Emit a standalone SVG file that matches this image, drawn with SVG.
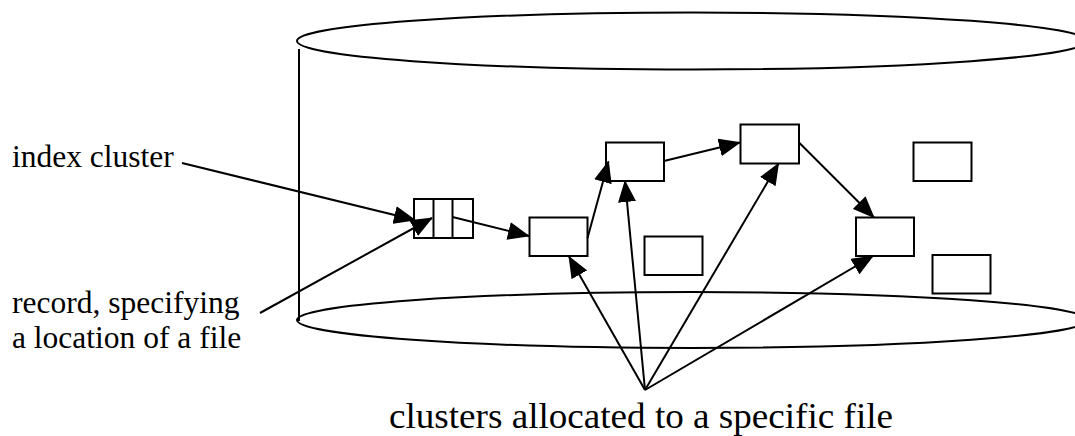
<svg xmlns="http://www.w3.org/2000/svg" width="1075" height="436" viewBox="0 0 1075 436">
<style>
.box{fill:#fff;stroke:#000;stroke-width:2}
.cyl{fill:none;stroke:#000;stroke-width:2}
.con{stroke:#000;stroke-width:2;fill:none;marker-end:url(#ah)}
</style>
<defs>
<marker id="ah" markerUnits="userSpaceOnUse" markerWidth="22" markerHeight="18" refX="21" refY="9" orient="auto">
<path d="M0,0 L22,9 L0,18 z" fill="#000"/>
</marker>
</defs>
<g id="disk">
<ellipse class="cyl" cx="692" cy="41" rx="395" ry="28.5"/>
<line class="cyl" x1="299" y1="49" x2="299" y2="321"/>
<ellipse class="cyl" cx="692" cy="320" rx="395" ry="28"/>
</g>
<g id="index-cluster">
<rect class="box" x="414" y="199" width="59" height="39"/>
<line x1="433.5" y1="199" x2="433.5" y2="238" stroke="#000" stroke-width="2"/>
<line x1="452.5" y1="199" x2="452.5" y2="238" stroke="#000" stroke-width="2"/>
</g>
<g id="cluster-a"><rect class="box" x="529.5" y="217.5" width="58" height="38.5"/></g>
<g id="cluster-b"><rect class="box" x="606" y="142.5" width="58" height="38.5"/></g>
<g id="cluster-c"><rect class="box" x="740.5" y="124.5" width="58.5" height="39"/></g>
<g id="cluster-d"><rect class="box" x="644.5" y="236.5" width="58" height="38.5"/></g>
<g id="cluster-e"><rect class="box" x="913.5" y="142.5" width="58" height="38.5"/></g>
<g id="cluster-f"><rect class="box" x="856" y="217.5" width="58" height="38.5"/></g>
<g id="cluster-g"><rect class="box" x="932.5" y="255" width="58" height="38.5"/></g>
<g id="connectors">
<line class="con" x1="182" y1="163" x2="415" y2="220"/>
<line class="con" x1="260" y1="313" x2="432" y2="218"/>
<line class="con" x1="452.5" y1="217" x2="529" y2="236"/>
<line class="con" x1="587.5" y1="238" x2="608.5" y2="161.5"/>
<line class="con" x1="664" y1="161" x2="740" y2="142.5"/>
<line class="con" x1="799" y1="142.5" x2="874" y2="217.5"/>
<line class="con" x1="645" y1="390" x2="569" y2="256.5"/>
<line class="con" x1="645" y1="390" x2="625" y2="181"/>
<line class="con" x1="645" y1="390" x2="778.5" y2="163.5"/>
<line class="con" x1="645" y1="390" x2="873" y2="256"/>
</g>
<g id="labels" font-family="'Liberation Serif', 'Times New Roman', serif" fill="#000">
<text x="12" y="167" font-size="31.5">index cluster</text>
<text x="12" y="313" font-size="31.5">record, specifying</text>
<text x="12" y="348" font-size="31.5">a location of a file</text>
<text x="389" y="428" font-size="36" textLength="504" lengthAdjust="spacingAndGlyphs">clusters allocated to a specific file</text>
</g>
</svg>
